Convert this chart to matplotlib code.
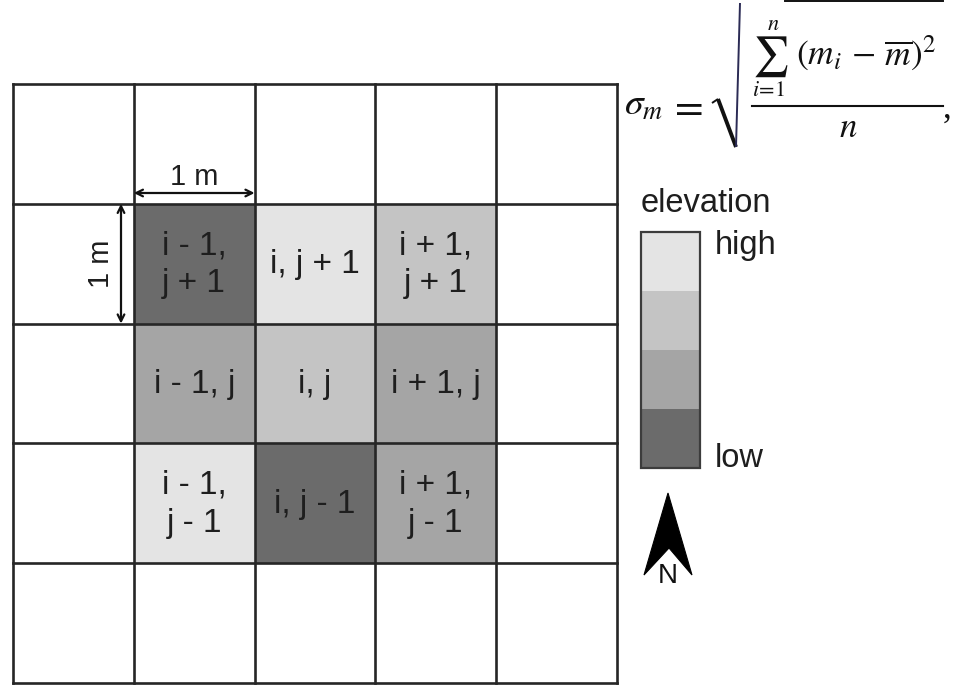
import matplotlib.pyplot as plt
from matplotlib.patches import Rectangle, Polygon, FancyArrowPatch

plt.rcParams['font.family'] = ['Liberation Sans', 'DejaVu Sans']
plt.rcParams['mathtext.fontset'] = 'stix'

# elevation classes, high -> low
class_names = ["high", "", "", "low"]
class_colors = ["#e4e4e4", "#c4c4c4", "#a5a5a5", "#6b6b6b"]

# 3x3 neighbourhood, rows from top (j + 1) to bottom (j - 1)
cell_class = [
    [3, 0, 1],
    [2, 1, 2],
    [0, 3, 2],
]
cell_labels = [
    ["i - 1,\nj + 1", "i, j + 1", "i + 1,\nj + 1"],
    ["i - 1, j", "i, j", "i + 1, j"],
    ["i - 1,\nj - 1", "i, j - 1", "i + 1,\nj - 1"],
]
n_grid = 5

W, H = 961, 685
fig = plt.figure(figsize=(W / 100, H / 100), dpi=100)
ax = fig.add_axes([0, 0, 1, 1])
ax.set_xlim(0, W)
ax.set_ylim(H, 0)
ax.axis("off")

x0, y0 = 13, 84
cw, ch = 120.8, 119.8
line_col = "#262626"
txt_col = "#1e1e1e"

# shaded neighbourhood cells
for r, row in enumerate(cell_class):
    for c, k in enumerate(row):
        cx = x0 + (c + 1) * cw
        cy = y0 + (r + 1) * ch
        ax.add_patch(Rectangle((cx, cy), cw, ch, facecolor=class_colors[k],
                               edgecolor="none", zorder=1))
        ax.text(cx + cw / 2, cy + ch / 2 + 1, cell_labels[r][c], ha="center",
                va="center", fontsize=24, color=txt_col, linespacing=1.3,
                zorder=3)

# grid lines
for k in range(n_grid + 1):
    ax.plot([x0 + k * cw] * 2, [y0, y0 + n_grid * ch], color=line_col, lw=1.9,
            zorder=2, solid_capstyle="projecting")
    ax.plot([x0, x0 + n_grid * cw], [y0 + k * ch] * 2, color=line_col, lw=1.9,
            zorder=2, solid_capstyle="projecting")

# 1 m scale arrows
ax.add_patch(FancyArrowPatch((x0 + cw, 193), (x0 + 2 * cw, 193), arrowstyle="<->",
                             mutation_scale=12, lw=1.6, color="#111111",
                             shrinkA=0, shrinkB=0, zorder=4))
ax.text(x0 + 1.5 * cw, 177, "1 m", ha="center", va="center", fontsize=21,
        color=txt_col)
ax.add_patch(FancyArrowPatch((121, y0 + ch), (121, y0 + 2 * ch), arrowstyle="<->",
                             mutation_scale=12, lw=1.6, color="#111111",
                             shrinkA=0, shrinkB=0, zorder=4))
ax.text(101, y0 + 1.5 * ch, "1 m", ha="center", va="center", fontsize=21,
        rotation=90, color=txt_col)

# elevation legend
lx, ly, lw_, lh = 641, 232, 59, 59
ax.text(lx, 203, "elevation", ha="left", va="center", fontsize=23.5,
        color=txt_col)
for k, col in enumerate(class_colors):
    ax.add_patch(Rectangle((lx, ly + k * lh), lw_, lh, facecolor=col,
                           edgecolor="none", zorder=1))
ax.add_patch(Rectangle((lx, ly), lw_, lh * len(class_colors), facecolor="none",
                       edgecolor="#3c3c3c", lw=1.6, zorder=2))
ax.text(715, 245, class_names[0], ha="left", va="center", fontsize=23.5,
        color=txt_col)
ax.text(715, 458, class_names[-1], ha="left", va="center", fontsize=23.5,
        color=txt_col)

# north arrow
ax.add_patch(Polygon([(668, 493), (692, 575), (669, 548), (644, 575)],
                     closed=True, facecolor="black", edgecolor="black", lw=0.8))
ax.text(668, 576, "N", ha="center", va="center", fontsize=20, color="#111111")

# standard deviation formula, set piece by piece
fcol = "#111111"
ax.text(624, 115, r"$\sigma_m$", ha="left", va="baseline", fontsize=27,
        color=fcol)
ax.text(685, 107, r"$=$", ha="center", va="center", fontsize=30, color=fcol)
# radical sign
ax.plot([712, 718], [103, 99], color=fcol, lw=1.4, solid_capstyle="butt")
ax.plot([718, 736], [99, 147], color=fcol, lw=2.8, solid_capstyle="butt")
ax.plot([736, 740], [147, 3], color="#2b2b55", lw=1.4, solid_capstyle="butt")
ax.plot([785, 943], [1, 1], color=fcol, lw=1.4)
# numerator
ax.text(773, 24, r"$n$", ha="center", va="center", fontsize=16, color=fcol)
ax.text(770, 57, r"$\sum$", ha="center", va="center", fontsize=29, color=fcol)
ax.text(769, 90, r"$i\!=\!1$", ha="center", va="center", fontsize=16,
        color=fcol)
ax.text(796, 65, r"$(m_i\, -\, \overline{m})^2$", ha="left", va="baseline",
        fontsize=25.5, color=fcol)
# fraction bar and denominator
ax.plot([752, 943], [106, 106], color=fcol, lw=1.5)
ax.text(848, 137, r"$n$", ha="center", va="baseline", fontsize=25, color=fcol)
ax.text(943, 118, ",", ha="left", va="baseline", fontsize=25, color=fcol,
        family="Liberation Serif")

fig.savefig("out.png", dpi=100)
